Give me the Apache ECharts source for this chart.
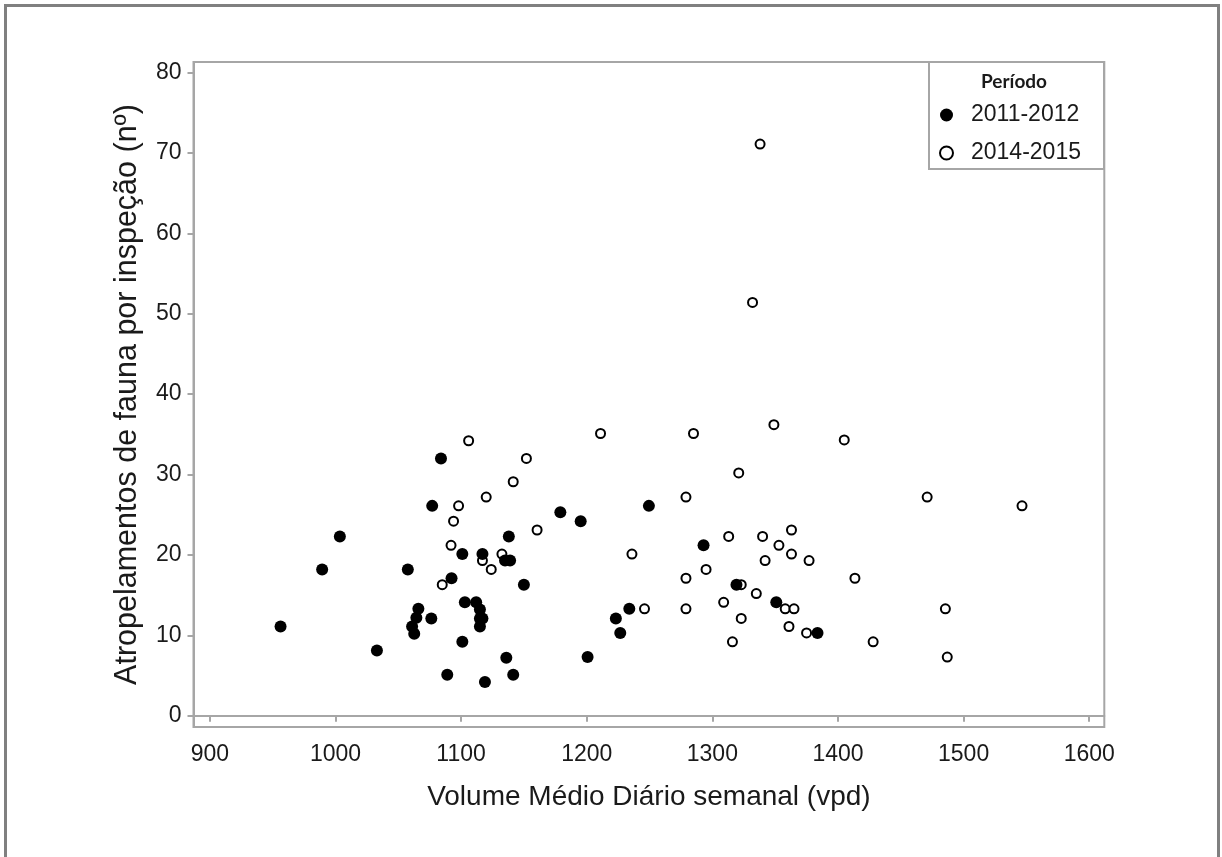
<!DOCTYPE html>
<html>
<head>
<meta charset="utf-8">
<script src="https://cdn.jsdelivr.net/npm/echarts@6/dist/echarts.min.js"></script>
<style>
html,body{margin:0;padding:0;background:#fff;}
#c{width:1222px;height:857px;}
</style>
</head>
<body>
<div id="c"></div>
<script>
// Period 2011-2012 (filled circles)
const filledX = [1084,1077,1179,1003.5,1138,1101,1117,1135,1139,989.4,1057.6,1150,1092.4,1103,1112,1115,1066,1064.4,1076.3,1115,1117,1061,1115,956.3,1062.7,1101,1033,1136,1089,1141.5,1119,1249.5,1195.2,1293,1319.2,1350.9,1233.9,1223.2,1226.7,1383.7,1200.7];
const filledY = [32.0,26.1,25.3,22.3,22.3,20.1,20.1,19.3,19.3,18.2,18.2,16.3,17.1,14.1,14.1,13.2,13.3,12.2,12.1,12.1,12.1,11.1,11.1,11.1,10.2,9.2,8.1,7.2,5.1,5.1,4.2,26.1,24.2,21.2,16.3,14.1,13.3,12.1,10.3,10.3,7.3];
// Period 2014-2015 (open circles)
const openX = [1106,1152,1141.5,1120,1098,1094,1160.5,1092,1132.5,1117,1124,1085,1211,1285,1349,1405,1321,1279,1313,1340,1363,1353,1236,1363,1342,1377,1295,1279,1413.5,1323,1335,1309,1246,1279,1358,1365,1323,1361,1375,1316,1471,1546.5,1485.5,1428,1487,1338,1332];
const openY = [34.2,32.0,29.1,27.2,26.1,24.2,23.1,21.2,20.1,19.3,18.2,16.3,35.1,35.1,36.2,34.3,30.2,27.2,22.3,22.3,23.1,21.2,20.1,20.1,19.3,19.3,18.2,17.1,17.1,16.3,15.2,14.1,13.3,13.3,13.3,13.3,12.1,11.1,10.3,9.2,27.2,26.1,13.3,9.2,7.3,71.1,51.4];
const xTicks = [900,1000,1100,1200,1300,1400,1500,1600];
const yTicks = [0,10,20,30,40,50,60,70,80];
const seriesNames = ['2011-2012','2014-2015'];
const legendTitle = 'Período';
const xTitle = 'Volume Médio Diário semanal (vpd)';
const yTitle = 'Atropelamentos de fauna por inspeção (nº)';

const pairs = (xs, ys) => xs.map((x, i) => [x, ys[i]]);
const axisGray = '#a6a6a6';
const txt = '#1a1a1a';
const font = 'Liberation Sans';

const chart = echarts.init(document.getElementById('c'), null, {renderer: 'canvas'});
chart.setOption({
  backgroundColor: '#fff',
  animation: false,
  grid: {left: 193.5, right: 117.7, top: 62, bottom: 130, show: true, borderColor: axisGray, borderWidth: 2, backgroundColor: 'transparent'},
  xAxis: {
    type: 'value', min: 887, max: 1612,
    name: xTitle, nameLocation: 'middle', nameGap: 56, nameMoveOverlap: false,
    nameTextStyle: {fontFamily: font, fontSize: 28, color: txt},
    axisLine: {show: true, lineStyle: {color: axisGray, width: 2}},
    axisTick: {show: true, customValues: xTicks, length: 6, lineStyle: {color: axisGray, width: 2}},
    axisLabel: {customValues: xTicks, formatter: v => String(v), margin: 16, fontFamily: font, fontSize: 23, color: txt},
    splitLine: {show: false}
  },
  yAxis: {
    type: 'value', min: -1.4, max: 81.3,
    name: yTitle, nameLocation: 'middle', nameGap: 50, nameMoveOverlap: false,
    nameTextStyle: {fontFamily: font, fontSize: 30.5, color: txt},
    axisLine: {show: true, lineStyle: {color: axisGray, width: 2}},
    axisTick: {show: true, customValues: yTicks, length: 6, lineStyle: {color: axisGray, width: 2}},
    axisLabel: {customValues: yTicks, formatter: v => String(v), margin: 12, fontFamily: font, fontSize: 23, color: txt},
    splitLine: {show: false}
  },
  legend: {
    orient: 'vertical', left: 939, top: 103, padding: 0, z: 20,
    itemWidth: 39, itemHeight: 13, itemGap: 14,
    icon: 'circle',
    data: seriesNames,
    textStyle: {fontFamily: font, fontSize: 23, color: txt, lineHeight: 24}
  },
  graphic: [
    {type: 'rect', z: 100, silent: true, shape: {x: 5.5, y: 5.5, width: 1213, height: 900}, style: {fill: 'none', stroke: '#808080', lineWidth: 3}},
    {type: 'rect', z: 1, shape: {x: 929, y: 62, width: 175, height: 107}, style: {fill: '#fff', stroke: axisGray, lineWidth: 2}},
    {type: 'text', z: 6, x: 1014, y: 82, style: {text: legendTitle, fontFamily: 'Lato', fontWeight: 'bold', fontSize: 19, fill: txt, align: 'center', verticalAlign: 'middle'}}
  ],
  series: [
    {name: seriesNames[0], type: 'scatter', symbol: 'circle', symbolSize: 12, z: 3,
     itemStyle: {color: '#000', borderColor: '#000', borderWidth: 0, opacity: 1},
     data: pairs(filledX, filledY)},
    {name: seriesNames[1], type: 'scatter', symbol: 'circle', symbolSize: 9, z: 2,
     itemStyle: {color: '#fff', borderColor: '#000', borderWidth: 2, opacity: 1},
     data: pairs(openX, openY)}
  ]
});
</script>
</body>
</html>
